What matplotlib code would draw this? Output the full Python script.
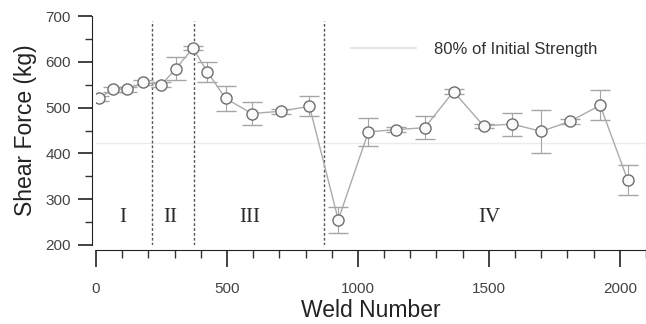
import matplotlib
matplotlib.use("Agg")
import matplotlib.pyplot as plt
import matplotlib.ticker as ticker
import numpy as np

# weld number vs. shear force
weld_number = [10, 65, 120, 180, 250, 305, 370, 425, 495, 595, 705, 815,
               925, 1040, 1145, 1255, 1365, 1480, 1590, 1700, 1810, 1925, 2030]
shear_force = [520, 540, 540, 555, 550, 585, 630, 578, 520, 487, 492, 503,
               255, 447, 452, 456, 535, 460, 464, 448, 470, 505, 342]
force_err = [5, 5, 5, 5, 6, 25, 5, 22, 28, 25, 5, 22,
             28, 30, 5, 25, 5, 5, 25, 47, 5, 33, 32]

stage_bounds = [215, 375, 870]
stage_names = ["I", "II", "III", "IV"]
stage_x = [103, 282, 588, 1500]
stage_y = 260
threshold = 422  # 80% of initial strength
threshold_label = "80% of Initial Strength"

plt.rcParams["font.family"] = ["Liberation Sans", "DejaVu Sans"]

fig = plt.figure(figsize=(6.46, 3.24), dpi=100)
ax = fig.add_axes([96 / 646, 1 - 245 / 324, 1 - 96 / 646, (245 - 16) / 324])

ax.axhline(threshold, color="#ececec", lw=1.0, zorder=0)
(thr_handle,) = ax.plot([], [], color="#e0e0e0", lw=1.2)

ax.errorbar(weld_number, shear_force, yerr=force_err, color="#ababab",
            ecolor="#a5a5a5", elinewidth=0.8, capsize=7, capthick=0.8,
            lw=1.0, marker="o", markersize=8, markerfacecolor="#fafafa",
            markeredgecolor="#6e6e6e", markeredgewidth=1.0, zorder=3)

ax.vlines(stage_bounds, 200, 688, colors="#555555", linestyles=(0, (2, 1.5)),
          lw=1.0, zorder=2)

for name, sx in zip(stage_names, stage_x):
    ax.text(sx, stage_y, name, fontsize=15, family="Liberation Serif",
            color="#2a2a2a", ha="center", va="center")

ax.legend([thr_handle], [threshold_label], loc="center left",
          bbox_to_anchor=(0.436, 0.855), frameon=False, fontsize=12,
          handlelength=3.9, handletextpad=1.1, labelcolor="#333333")

ax.set_xlim(0, 2100)
ax.set_ylim(200, 700)
ax.xaxis.set_major_locator(ticker.MultipleLocator(500))
ax.xaxis.set_minor_locator(ticker.MultipleLocator(100))
ax.yaxis.set_major_locator(ticker.MultipleLocator(100))
ax.yaxis.set_minor_locator(ticker.MultipleLocator(50))

for s in ["top", "right"]:
    ax.spines[s].set_visible(False)
ax.spines["left"].set_position(("outward", 3))
ax.spines["bottom"].set_position(("outward", 3.5))
ax.spines["left"].set_color("#222222")
ax.spines["bottom"].set_color("#222222")

ax.tick_params(axis="x", which="major", direction="out", length=12, width=1.2,
               pad=11, labelsize=11, colors="#222222", labelcolor="#444444")
ax.tick_params(axis="x", which="minor", direction="out", length=6, width=1.0,
               colors="#333333")
ax.tick_params(axis="y", which="major", direction="out", length=10, width=1.2,
               pad=5, labelsize=11, colors="#222222", labelcolor="#444444")
ax.tick_params(axis="y", which="minor", direction="out", length=5, width=1.0,
               colors="#333333")

ax.set_xlabel("Weld Number", fontsize=16.5, color="#222222", labelpad=2)
ax.set_ylabel("Shear Force (kg)", fontsize=16.5, color="#222222", labelpad=6)

fig.savefig("out.png", dpi=100)
